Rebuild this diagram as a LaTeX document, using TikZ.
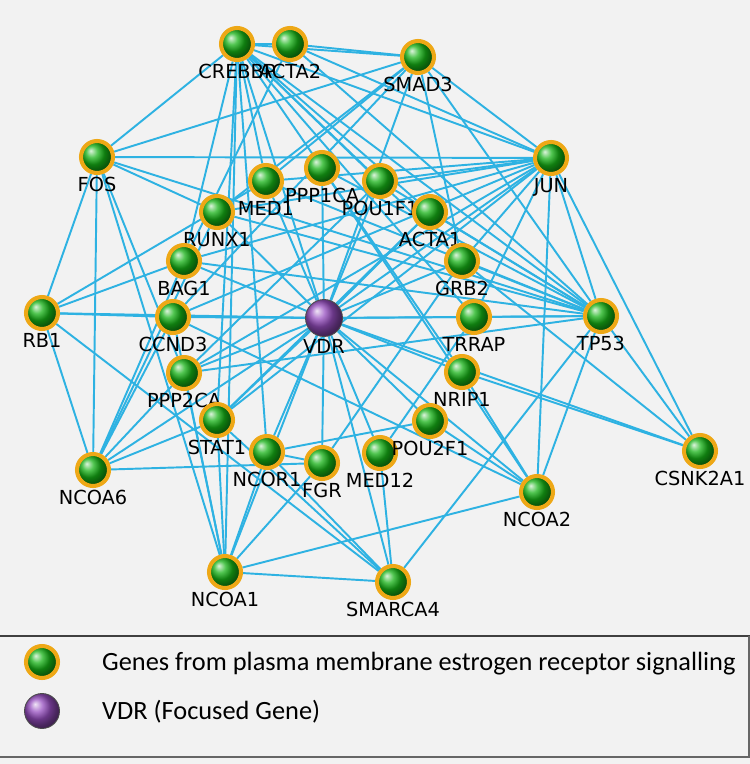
\documentclass[tikz,border=0pt]{standalone}
\usepackage{fontspec}
\setmainfont{DejaVu Sans}
\newfontfamily\legfont{Carlito}
\definecolor{ringor}{RGB}{238,168,22}
\definecolor{ballgr}{RGB}{22,178,22}
\definecolor{ballvi}{RGB}{150,78,192}
\definecolor{edgebl}{RGB}{46,178,226}
\definecolor{bggray}{RGB}{242,242,242}
\pgfdeclarelayer{bg}
\pgfdeclarelayer{edges}
\pgfsetlayers{bg,edges,main}
\tikzset{
  gene/.style={circle,shading=ball,ball color=ballgr,draw=ringor,line width=2.3pt,
    minimum size=0.64cm,inner sep=0pt},
  focus/.style={circle,shading=ball,ball color=ballvi,draw=black!70,line width=0.5pt,
    minimum size=0.74cm,inner sep=0pt},
  every label/.style={font=\fontsize{11}{12}\selectfont,inner sep=1pt,label distance=0pt},
  edge/.style={draw=edgebl,line width=1.1pt},
}
\begin{document}
\begin{tikzpicture}[x=0.02cm,y=-0.02cm]
  \begin{pgfonlayer}{bg}
    \fill[bggray] (0,0) rectangle (750,764);
  \end{pgfonlayer}
  \useasboundingbox (0,0) rectangle (750,764);

  \node[gene,label=below:CREBBP] (crebbp) at (237,44) {};
  \node[gene,label=below:ACTA2] (acta2) at (290,44) {};
  \node[gene,label=below:SMAD3] (smad3) at (418,57) {};
  \node[gene,label=below:FOS] (fos) at (97,157) {};
  \node[gene,label=below:JUN] (jun) at (551,158) {};
  \node[gene,label=below:MED1] (med1) at (266,181) {};
  \node[gene,label=below:PPP1CA] (ppp1ca) at (322,168) {};
  \node[gene,label=below:POU1F1] (pou1f1) at (380,181) {};
  \node[gene,label=below:RUNX1] (runx1) at (217,212) {};
  \node[gene,label=below:ACTA1] (acta1) at (430,212) {};
  \node[gene,label=below:BAG1] (bag1) at (184,261) {};
  \node[gene,label=below:GRB2] (grb2) at (462,261) {};
  \node[gene,label=below:RB1] (rb1) at (42,313) {};
  \node[gene,label=below:CCND3] (ccnd3) at (173,317) {};
  \node[focus,label=below:VDR] (vdr) at (324,318) {};
  \node[gene,label=below:TRRAP] (trrap) at (474,317) {};
  \node[gene,label=below:TP53] (tp53) at (601,316) {};
  \node[gene,label=below:PPP2CA] (ppp2ca) at (184,373) {};
  \node[gene,label=below:NRIP1] (nrip1) at (462,372) {};
  \node[gene,label=below:STAT1] (stat1) at (217,420) {};
  \node[gene,label=below:NCOR1] (ncor1) at (267,452) {};
  \node[gene,label=below:FGR] (fgr) at (322,463) {};
  \node[gene,label=below:MED12] (med12) at (380,453) {};
  \node[gene,label=below:POU2F1] (pou2f1) at (430,421) {};
  \node[gene,label=below:NCOA6] (ncoa6) at (93,470) {};
  \node[gene,label=below:CSNK2A1] (csnk2a1) at (700,451) {};
  \node[gene,label=below:NCOA2] (ncoa2) at (537,492) {};
  \node[gene,label=below:NCOA1] (ncoa1) at (225,572) {};
  \node[gene,label=below:SMARCA4] (smarca4) at (393,582) {};

  \begin{pgfonlayer}{edges}
  \foreach \a/\b in {vdr/crebbp,vdr/smad3,vdr/jun,vdr/med1,vdr/ppp1ca,vdr/pou1f1,vdr/runx1,
    vdr/acta1,vdr/bag1,vdr/grb2,vdr/rb1,vdr/ccnd3,vdr/trrap,vdr/tp53,vdr/ppp2ca,vdr/nrip1,
    vdr/stat1,vdr/ncor1,vdr/fgr,vdr/med12,vdr/pou2f1,vdr/ncoa6,vdr/ncoa2,vdr/ncoa1,
    vdr/smarca4,vdr/csnk2a1,
    crebbp/acta2,crebbp/fos,crebbp/jun,crebbp/tp53,crebbp/acta1,crebbp/grb2,crebbp/trrap,
    crebbp/pou1f1,crebbp/med1,crebbp/bag1,crebbp/ncoa1,crebbp/stat1,crebbp/ncor1,
    crebbp/nrip1,crebbp/smad3,
    acta2/smad3,acta2/jun,acta2/tp53,acta2/bag1,
    smad3/fos,smad3/jun,smad3/tp53,smad3/grb2,smad3/med1,smad3/ccnd3,smad3/runx1,
    fos/jun,fos/runx1,fos/rb1,fos/ncoa6,fos/ncoa1,fos/tp53,fos/ppp2ca,
    jun/med1,jun/pou1f1,jun/runx1,jun/ccnd3,jun/ppp2ca,jun/stat1,jun/grb2,jun/trrap,
    jun/ncoa2,jun/tp53,jun/csnk2a1,jun/bag1,
    rb1/ccnd3,rb1/ncoa6,rb1/bag1,rb1/med1,rb1/smarca4,
    ccnd3/ncoa2,ccnd3/ncoa6,ccnd3/ncoa1,
    bag1/tp53,bag1/ncoa6,
    ppp2ca/ncoa6,ppp2ca/pou1f1,ppp2ca/tp53,ppp2ca/ncoa1,
    stat1/ncoa6,stat1/ncoa1,stat1/smarca4,stat1/acta1,
    ncor1/ncoa1,ncor1/smarca4,ncor1/fgr,
    fgr/ncoa6,fgr/ncoa1,fgr/grb2,
    med12/trrap,med12/smarca4,
    pou2f1/ncoa2,pou2f1/ncor1,
    nrip1/csnk2a1,nrip1/ncoa2,
    ncoa2/tp53,ncoa2/ncoa1,ncoa2/ppp1ca,
    smarca4/tp53,smarca4/ncoa1,
    tp53/trrap,tp53/csnk2a1,tp53/med1,tp53/ppp1ca,tp53/pou1f1,tp53/acta1,tp53/grb2,
    grb2/csnk2a1,runx1/tp53,runx1/ncoa6}
    \draw[edge] (\a) -- (\b);
  \end{pgfonlayer}

  \draw[black!75,line width=1.2pt] (0,636) -- (750,636);
  \draw[black!60,line width=0.8pt] (749,636) -- (749,757) -- (0,757);
  \node[gene] (leggene) at (42,662) {};
  \node[focus,minimum size=0.7cm] (legvdr) at (42,711) {};
  \node[anchor=west,font=\legfont\fontsize{15}{18}\selectfont] (legtxta) at (96,664)
    {Genes from plasma membrane estrogen receptor signalling};
  \node[anchor=west,font=\legfont\fontsize{15}{18}\selectfont] (legtxtb) at (96,712)
    {VDR (Focused Gene)};
\end{tikzpicture}
\end{document}
